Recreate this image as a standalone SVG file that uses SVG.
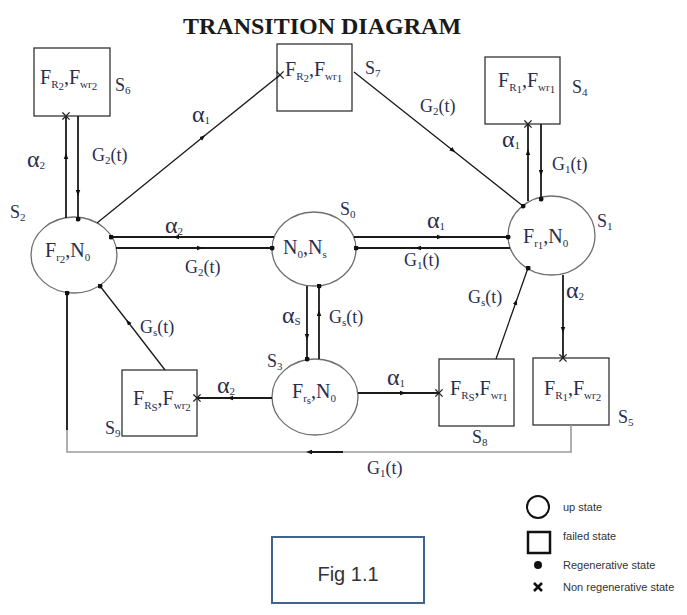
<svg xmlns="http://www.w3.org/2000/svg" width="687" height="615" viewBox="0 0 687 615">
<style>
.t{font-family:"Liberation Serif","Times New Roman",serif;fill:#2a2f4f}
.n{font-size:20px}
.sb{font-size:11px}
.lab{font-size:18px}
.al{font-size:24px}
.c{fill:#fff;stroke:#6e6e6e;stroke-width:1.3}
.b{fill:#fff;stroke:#333;stroke-width:1.3}
.e{fill:none;stroke:#1a1a1a;stroke-width:1.8}
.lg{font-family:"Liberation Sans",Arial,sans-serif;font-size:11px;fill:#333}
</style>
<defs>
<marker id="ar" viewBox="0 0 8 8" refX="4" refY="4" markerWidth="6" markerHeight="6" markerUnits="userSpaceOnUse" orient="auto"><path d="M0,1 L8,4 L0,7 z" fill="#111"/></marker>
<marker id="dot" viewBox="0 0 6 6" refX="3" refY="3" markerWidth="5" markerHeight="5" markerUnits="userSpaceOnUse"><circle cx="3" cy="3" r="3" fill="#111"/></marker>
<marker id="x" viewBox="0 0 10 10" refX="5" refY="5" markerWidth="9" markerHeight="9" markerUnits="userSpaceOnUse"><path d="M1,1 L9,9 M9,1 L1,9" stroke="#222" stroke-width="1.4"/></marker>
</defs>
<rect width="687" height="615" fill="#fff"/>
<text x="183" y="34" style="font-family:'Liberation Serif','Times New Roman',serif;font-size:24px;font-weight:bold;fill:#1a1a1a">TRANSITION DIAGRAM</text>

<g id="S6"><rect class="b" x="34" y="48" width="76" height="68"/>
<text class="t n" x="40" y="84">F<tspan class="sb" dy="4">R</tspan><tspan class="sb" dy="2">2</tspan><tspan dy="-6">,F</tspan><tspan class="sb" dy="4">wr</tspan><tspan class="sb" dy="2">2</tspan></text>
<text class="t lab" x="115" y="91">S<tspan class="sb" dy="3">6</tspan></text></g>

<g id="S7"><rect class="b" x="277" y="44" width="75" height="67"/>
<text class="t n" x="285" y="76">F<tspan class="sb" dy="4">R</tspan><tspan class="sb" dy="2">2</tspan><tspan dy="-6">,F</tspan><tspan class="sb" dy="4">wr</tspan><tspan class="sb" dy="2">1</tspan></text>
<text class="t lab" x="365" y="74">S<tspan class="sb" dy="3">7</tspan></text></g>

<g id="S4"><rect class="b" x="485" y="57" width="75" height="67"/>
<text class="t n" x="498" y="87">F<tspan class="sb" dy="4">R</tspan><tspan class="sb" dy="2">1</tspan><tspan dy="-6">,F</tspan><tspan class="sb" dy="4">wr</tspan><tspan class="sb" dy="2">1</tspan></text>
<text class="t lab" x="572" y="93">S<tspan class="sb" dy="3">4</tspan></text></g>

<g id="S2"><ellipse class="c" cx="74" cy="255" rx="43" ry="38"/>
<text class="t n" x="45" y="257">F<tspan class="sb" dy="4">r</tspan><tspan class="sb" dy="2">2</tspan><tspan dy="-6">,N</tspan><tspan class="sb" dy="4">0</tspan></text>
<text class="t lab" x="10" y="218">S<tspan class="sb" dy="3">2</tspan></text></g>

<g id="S0"><ellipse class="c" cx="314" cy="249" rx="42" ry="37"/>
<text class="t n" x="283" y="254">N<tspan class="sb" dy="4">0</tspan><tspan dy="-4">,N</tspan><tspan class="sb" dy="4">s</tspan></text>
<text class="t lab" x="340" y="215">S<tspan class="sb" dy="3">0</tspan></text></g>

<g id="S1"><ellipse class="c" cx="551.5" cy="235.5" rx="43.5" ry="39.5"/>
<text class="t n" x="523" y="243">F<tspan class="sb" dy="4">r</tspan><tspan class="sb" dy="2">1</tspan><tspan dy="-6">,N</tspan><tspan class="sb" dy="4">0</tspan></text>
<text class="t lab" x="597" y="227">S<tspan class="sb" dy="3">1</tspan></text></g>

<g id="S3"><ellipse class="c" cx="315" cy="397" rx="43" ry="38"/>
<text class="t n" x="292" y="398">F<tspan class="sb" dy="4">r</tspan><tspan class="sb" dy="2">s</tspan><tspan dy="-6">,N</tspan><tspan class="sb" dy="4">0</tspan></text>
<text class="t lab" x="267" y="367">S<tspan class="sb" dy="3">3</tspan></text></g>

<g id="S9"><rect class="b" x="122" y="370" width="75" height="66"/>
<text class="t n" x="133" y="405">F<tspan class="sb" dy="4">R</tspan><tspan class="sb" dy="2">S</tspan><tspan dy="-6">,F</tspan><tspan class="sb" dy="4">wr</tspan><tspan class="sb" dy="2">2</tspan></text>
<text class="t lab" x="105" y="434">S<tspan class="sb" dy="3">9</tspan></text></g>

<g id="S8"><rect class="b" x="439" y="359" width="75" height="67"/>
<text class="t n" x="450" y="395">F<tspan class="sb" dy="4">R</tspan><tspan class="sb" dy="2">S</tspan><tspan dy="-6">,F</tspan><tspan class="sb" dy="4">wr</tspan><tspan class="sb" dy="2">1</tspan></text>
<text class="t lab" x="472" y="443">S<tspan class="sb" dy="3">8</tspan></text></g>

<g id="S5"><rect class="b" x="533" y="358" width="76" height="67"/>
<text class="t n" x="544" y="395">F<tspan class="sb" dy="4">R</tspan><tspan class="sb" dy="2">1</tspan><tspan dy="-6">,F</tspan><tspan class="sb" dy="4">wr</tspan><tspan class="sb" dy="2">2</tspan></text>
<text class="t lab" x="618" y="423">S<tspan class="sb" dy="3">5</tspan></text></g>

<g id="connectors">
<path class="e" d="M66,218 L66,156 L66,116" marker-mid="url(#ar)" marker-end="url(#x)"/>
<path class="e" d="M78,116 L78,193 L78,219" marker-mid="url(#ar)" marker-end="url(#dot)"/>
<path class="e" style="stroke-width:1.3" d="M97,223 L203,137 L280,75" marker-mid="url(#ar)" marker-end="url(#x)"/>
<path class="e" style="stroke-width:1.3" d="M354,72 L453,150.5 L523,206" marker-mid="url(#ar)" marker-end="url(#dot)"/>
<path class="e" d="M528,201 L528,152 L528,124" marker-mid="url(#ar)" marker-end="url(#x)"/>
<path class="e" d="M541,124 L541,173 L541,199" marker-mid="url(#ar)" marker-end="url(#dot)"/>
<path class="e" d="M274,237 L176,237 L111,237" marker-mid="url(#ar)" marker-end="url(#dot)"/>
<path class="e" d="M116,248 L200,248 L272,248" marker-mid="url(#ar)" marker-end="url(#dot)"/>
<path class="e" d="M354,237 L440,237 L508,237" marker-mid="url(#ar)" marker-end="url(#dot)"/>
<path class="e" d="M510,248 L418,248 L356,248" marker-mid="url(#ar)" marker-end="url(#dot)"/>
<path class="e" d="M307,286 L307,337 L307,359" marker-mid="url(#ar)" marker-end="url(#dot)"/>
<path class="e" d="M319,359 L319,313 L319,286" marker-mid="url(#ar)" marker-end="url(#dot)"/>
<path class="e" d="M272,398 L230,398 L197,398" marker-mid="url(#ar)" marker-end="url(#x)"/>
<path class="e" style="stroke-width:1.3" d="M165,370 L128,322 L100,286" marker-mid="url(#ar)" marker-end="url(#dot)"/>
<path class="e" d="M358,393 L403,393 L439,393" marker-mid="url(#ar)" marker-end="url(#x)"/>
<path class="e" style="stroke-width:1.3" d="M496,359 L516,302 L528,268" marker-mid="url(#ar)" marker-end="url(#dot)"/>
<path class="e" d="M563,275 L563,330 L563,358" marker-mid="url(#ar)" marker-end="url(#x)"/>
<path d="M571,425 L571,452 L67,452 L67,293" fill="none" stroke="#9a9a9a" stroke-width="1.6"/>
<path class="e" d="M67,430 L67,293" marker-end="url(#dot)"/>
<path class="e" d="M343,452 L326,452 L309,452" marker-end="url(#ar)"/>
</g>

<g id="edge-labels">
<text class="t al" x="27" y="167">α<tspan class="sb" dy="2">2</tspan></text>
<text class="t lab" x="92" y="161">G<tspan class="sb" dy="3">2</tspan><tspan dy="-3">(t)</tspan></text>
<text class="t al" x="192" y="122">α<tspan class="sb" dy="2">1</tspan></text>
<text class="t lab" x="420" y="112">G<tspan class="sb" dy="3">2</tspan><tspan dy="-3">(t)</tspan></text>
<text class="t al" x="502" y="147">α<tspan class="sb" dy="2">1</tspan></text>
<text class="t lab" x="552" y="170">G<tspan class="sb" dy="3">1</tspan><tspan dy="-3">(t)</tspan></text>
<text class="t al" x="165" y="233">α<tspan class="sb" dy="2">2</tspan></text>
<text class="t lab" x="185" y="273">G<tspan class="sb" dy="3">2</tspan><tspan dy="-3">(t)</tspan></text>
<text class="t al" x="427" y="228">α<tspan class="sb" dy="2">1</tspan></text>
<text class="t lab" x="404" y="266">G<tspan class="sb" dy="3">1</tspan><tspan dy="-3">(t)</tspan></text>
<text class="t al" x="282" y="323">α<tspan class="sb" dy="2">S</tspan></text>
<text class="t lab" x="329" y="323">G<tspan class="sb" dy="3">s</tspan><tspan dy="-3">(t)</tspan></text>
<text class="t lab" x="140" y="333">G<tspan class="sb" dy="3">s</tspan><tspan dy="-3">(t)</tspan></text>
<text class="t al" x="217" y="393">α<tspan class="sb" dy="2">2</tspan></text>
<text class="t al" x="387" y="385">α<tspan class="sb" dy="2">1</tspan></text>
<text class="t lab" x="468" y="303">G<tspan class="sb" dy="3">s</tspan><tspan dy="-3">(t)</tspan></text>
<text class="t al" x="566" y="298">α<tspan class="sb" dy="2">2</tspan></text>
<text class="t lab" x="367" y="474">G<tspan class="sb" dy="3">1</tspan><tspan dy="-3">(t)</tspan></text>
</g>

<g id="fig-box"><rect x="272" y="537" width="152" height="66" fill="#fff" stroke="#41648f" stroke-width="2"/>
<text x="348" y="581" text-anchor="middle" style="font-family:'Liberation Sans',Arial,sans-serif;font-size:20px;fill:#333">Fig 1.1</text></g>

<g id="legend">
<circle cx="538" cy="507" r="11" fill="none" stroke="#111" stroke-width="2"/>
<text class="lg" x="563" y="511">up state</text>
<rect x="528" y="532" width="22" height="21" fill="none" stroke="#111" stroke-width="2.5"/>
<text class="lg" x="563" y="540">failed state</text>
<circle cx="538" cy="565" r="4" fill="#111"/>
<text class="lg" x="563" y="569">Regenerative state</text>
<path d="M534,583 L542,591 M542,583 L534,591" stroke="#111" stroke-width="2.5"/>
<text class="lg" x="563" y="591">Non regenerative state</text>
</g>
</svg>
